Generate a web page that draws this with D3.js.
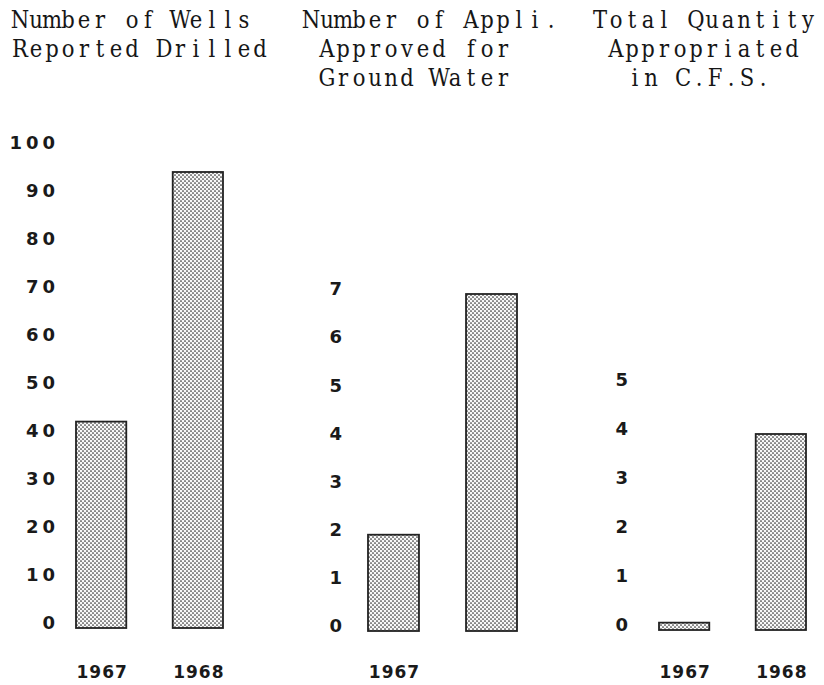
<!DOCTYPE html>
<html>
<head>
<meta charset="utf-8">
<script src="https://cdn.jsdelivr.net/npm/d3@7/dist/d3.min.js"></script>
<style>
  html, body { margin: 0; padding: 0; background: #fff; }
  svg { display: block; }
</style>
</head>
<body>
<svg id="chart" width="824" height="685"></svg>
<script>
// ---- data ----
const years = ["1967", "1968"];
const wellsDrilled = [43, 95];
const appsApproved = [2, 7];
const quantityCfs = [0.15, 4];

const wellsTicks = [0, 10, 20, 30, 40, 50, 60, 70, 80, 90, 100];
const appsTicks = [0, 1, 2, 3, 4, 5, 6, 7];
const cfsTicks = [0, 1, 2, 3, 4, 5];

const wellsYearLabels = ["1967", "1968"];
const appsYearLabels = ["1967", ""];
const cfsYearLabels = ["1967", "1968"];

const wellsTitle = ["Number of Wells", "Reported Drilled"];
const appsTitle = ["Number of Appli.", "Approved for", "Ground Water"];
const cfsTitle = ["Total Quantity", "Appropriated", "in C.F.S."];

// ---- layout ----
const svg = d3.select("#chart");

const defs = svg.append("defs");
const pat = defs.append("pattern")
  .attr("id", "stipple")
  .attr("patternUnits", "userSpaceOnUse")
  .attr("width", 4).attr("height", 4);
pat.append("rect").attr("width", 4).attr("height", 4).attr("fill", "#f8f8f8");
pat.append("circle").attr("cx", 1).attr("cy", 1).attr("r", 0.85).attr("fill", "#2e2e2e");
pat.append("circle").attr("cx", 3).attr("cy", 3).attr("r", 0.85).attr("fill", "#2e2e2e");

const panels = [
  {
    values: wellsDrilled, ticks: wellsTicks, yearLabels: wellsYearLabels, title: wellsTitle,
    domain: [0, 100], range: [628, 148], xRange: [76, 223], tickX: 59,
    titleX: [12, 12, 12]
  },
  {
    values: appsApproved, ticks: appsTicks, yearLabels: appsYearLabels, title: appsTitle,
    domain: [0, 7], range: [631, 294], xRange: [368, 517], tickX: 346,
    titleX: [303, 319, 319]
  },
  {
    values: quantityCfs, ticks: cfsTicks, yearLabels: cfsYearLabels, title: cfsTitle,
    domain: [0, 5], range: [630, 385], xRange: [659, 806], tickX: 632,
    titleX: [592, 608, 627]
  }
];

const titleBaselines = [28, 57, 86];
const charAdvance = 16;

panels.forEach(p => {
  const g = svg.append("g");
  const y = d3.scaleLinear().domain(p.domain).range(p.range);
  const x = d3.scaleBand().domain(years).range(p.xRange).paddingInner(0.48).paddingOuter(0);

  // title (typewriter-style: each glyph centred in a fixed-width cell)
  g.selectAll("text.title").data(p.title).join("text")
    .attr("class", "title")
    .attr("x", (d, i) => Array.from(d).map((c, k) => p.titleX[i] + k * charAdvance + charAdvance / 2).join(" "))
    .attr("y", (d, i) => titleBaselines[i])
    .attr("text-anchor", "middle")
    .attr("font-family", "'DejaVu Serif Condensed', 'DejaVu Serif', serif")
    .style("font-stretch", "condensed")
    .attr("font-size", 23.5)
    .attr("fill", "#161616")
    .text(d => d);

  // y tick labels (no axis line)
  const axis = d3.axisLeft(y).tickValues(p.ticks).tickSize(0).tickPadding(0).tickFormat(d3.format("d"));
  const ag = g.append("g").attr("transform", `translate(${p.tickX},-5)`).call(axis);
  ag.select(".domain").remove();
  ag.selectAll(".tick text")
    .attr("font-family", "'DejaVu Sans', sans-serif")
    .attr("font-weight", "bold")
    .attr("font-size", 18)
    .attr("letter-spacing", 4)
    .attr("fill", "#1a1a1a")
    .style("font-variant-numeric", "tabular-nums");

  // bars
  g.selectAll("rect.bar").data(p.values).join("rect")
    .attr("class", "bar")
    .attr("x", (d, i) => x(years[i]))
    .attr("width", x.bandwidth())
    .attr("y", d => y(d))
    .attr("height", d => y(0) - y(d))
    .attr("fill", "url(#stipple)")
    .attr("stroke", "#222")
    .attr("stroke-width", 1.8);

  // year labels
  g.selectAll("text.year").data(p.yearLabels).join("text")
    .attr("class", "year")
    .attr("x", (d, i) => x(years[i]) + x.bandwidth() / 2 + 1)
    .attr("y", 678)
    .attr("text-anchor", "middle")
    .attr("font-family", "'DejaVu Sans', sans-serif")
    .attr("font-weight", "bold")
    .attr("font-size", 17)
    .attr("letter-spacing", 1)
    .attr("fill", "#1a1a1a")
    .text(d => d);
});
</script>
</body>
</html>
